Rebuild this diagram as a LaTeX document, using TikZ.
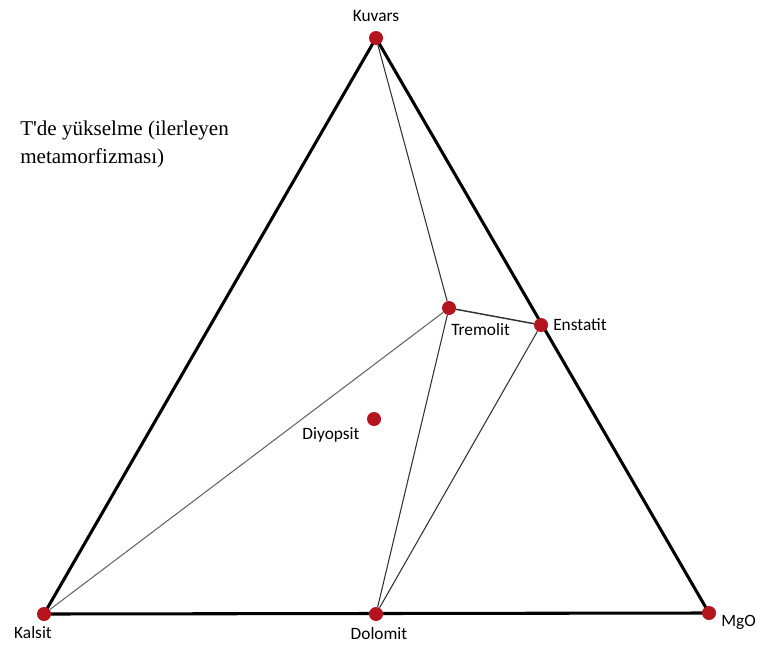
\documentclass[tikz,border=0pt]{standalone}
\usepackage{fontspec}
\setmainfont{Liberation Serif}
\newfontfamily\labelfont{Carlito}
\usetikzlibrary{positioning, backgrounds}

\definecolor{dotred}{RGB}{180,20,30}

\begin{document}
\begin{tikzpicture}[x=0.75pt, y=-0.75pt,
    mineral/.style={circle, fill=dotred, inner sep=0pt, minimum size=10.5pt},
    lbl/.style={font=\labelfont\fontsize{13}{15}\selectfont, inner sep=0pt},
    edge/.style={line width=2.3pt, line cap=round},
    tie/.style={line width=0.8pt, black!80}]

    \useasboundingbox (0,0) rectangle (757,646);

    \node [anchor=base west, align=left, font=\fontsize{15.8}{21}\selectfont, inner sep=0pt] (note) at (20,163)
        {T\textquotesingle de yükselme (ilerleyen\\metamorfizması)};

    \node [mineral] (kuvars) at (376,38) {};
    \node [mineral] (kalsit) at (44,614) {};
    \node [mineral] (dolomit) at (376,614) {};
    \node [mineral] (mgo) at (709,613) {};
    \node [mineral] (tremolit) at (449,308) {};
    \node [mineral] (enstatit) at (541,325) {};
    \node [mineral] (diyopsit) at (374,419) {};

    \node [lbl] (Lkuvars) at (376,16) {Kuvars};
    \node [lbl] (Lkalsit) at (33,633) {Kalsit};
    \node [lbl] (Ldolomit) at (379,634) {Dolomit};
    \node [lbl, anchor=east] (Lmgo) at (756,622) {MgO};
    \node [lbl, anchor=west] (Ltremolit) at (451,330) {Tremolit};
    \node [lbl, anchor=west] (Lenstatit) at (553,325) {Enstatit};
    \node [lbl] (Ldiyopsit) at (331,435) {Diyopsit};

    \begin{scope}[on background layer]
    \draw [edge] (kuvars.center) -- (kalsit.center);
    \draw [edge] (kuvars.center) -- (mgo.center);
    \draw [edge] (kalsit.center) -- (mgo.center);
    \draw [tie] (kuvars) -- (tremolit);
    \draw [tie, line width=1.1pt] (tremolit) -- (enstatit);
    \draw [tie, black!60] (kalsit) -- (tremolit);
    \draw [tie] (tremolit) -- (dolomit);
    \draw [tie] (enstatit) -- (dolomit);
    \end{scope}

\end{tikzpicture}
\end{document}
